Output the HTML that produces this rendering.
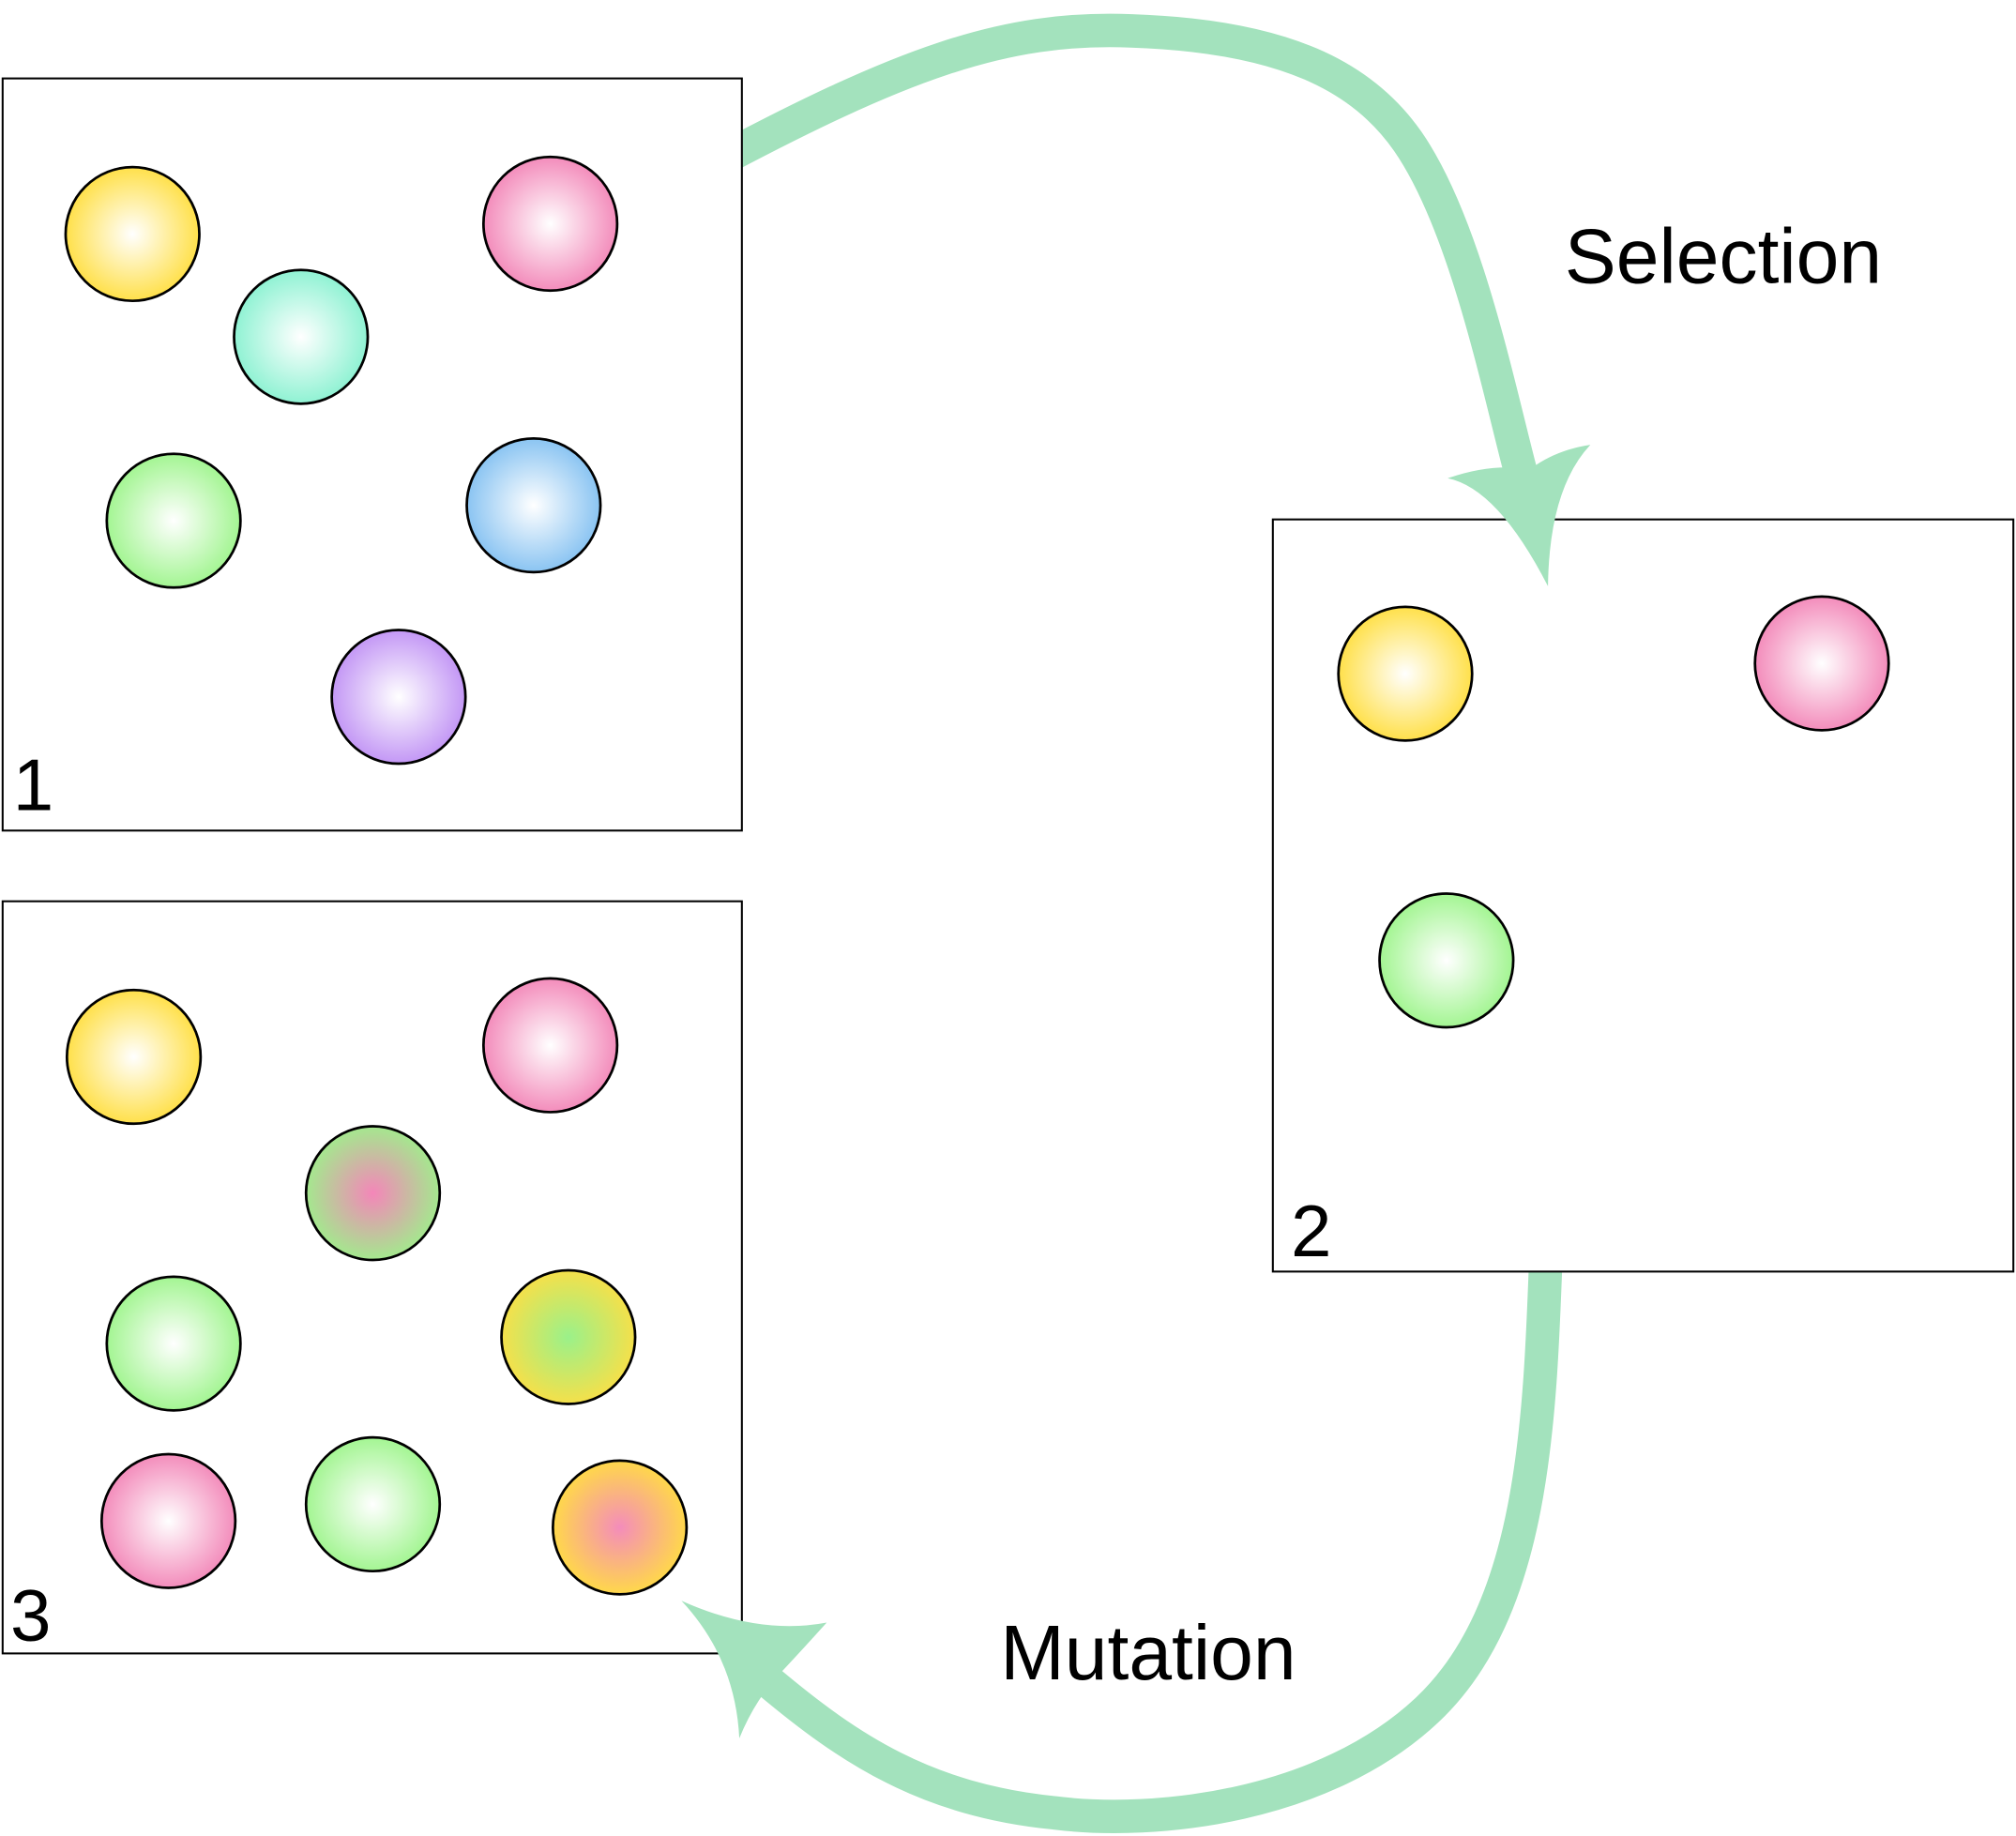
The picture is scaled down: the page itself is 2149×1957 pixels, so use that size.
<!DOCTYPE html>
<html><head><meta charset="utf-8"><style>html,body{margin:0;padding:0;background:#fff}svg{display:block}</style></head>
<body>
<svg width="2149" height="1957" viewBox="0 0 1568 1428" xmlns="http://www.w3.org/2000/svg">
<defs>
<radialGradient id="y"><stop offset="0" stop-color="#fff"/><stop offset="1" stop-color="#ffe04a"/></radialGradient>
<radialGradient id="p"><stop offset="0" stop-color="#fff"/><stop offset="1" stop-color="#f38cbb"/></radialGradient>
<radialGradient id="t"><stop offset="0" stop-color="#fff"/><stop offset="1" stop-color="#8ff2d3"/></radialGradient>
<radialGradient id="g"><stop offset="0" stop-color="#fff"/><stop offset="1" stop-color="#a3f592"/></radialGradient>
<radialGradient id="b"><stop offset="0" stop-color="#fff"/><stop offset="1" stop-color="#8ac4f2"/></radialGradient>
<radialGradient id="v"><stop offset="0" stop-color="#fff"/><stop offset="1" stop-color="#c397f5"/></radialGradient>
<radialGradient id="pg"><stop offset="0" stop-color="#f486b9"/><stop offset="1" stop-color="#a4e88e"/></radialGradient>
<radialGradient id="yg"><stop offset="0" stop-color="#9af18a"/><stop offset="1" stop-color="#f5e04a"/></radialGradient>
<radialGradient id="op"><stop offset="0" stop-color="#f48cbb"/><stop offset="1" stop-color="#ffd84a"/></radialGradient>
</defs>
<g stroke="#a3e2bd" stroke-width="26" fill="none">
<path d="M550,130 C700,50 780,20 880,24 C1000,28 1060,60 1095,110 C1140,175 1165,300 1183,368"/>
<path d="M1203,960 C1198,1100 1195,1250 1110,1330 C1030,1405 900,1420 820,1410 C720,1400 660,1360 598,1308"/>
</g>
<g fill="#fff" stroke="#000" stroke-width="1.5">
<rect x="2" y="61" width="575" height="585"/>
<rect x="2" y="701" width="575" height="585"/>
<rect x="990" y="404" width="576" height="585"/>
</g>
<g fill="#a3e2bd">
<path d="M1126,372 Q1165,380 1204,456 Q1205,380 1237,346 Q1210,350 1190,365 Q1160,360 1126,372 Z"/>
<path d="M575,1352 Q572,1290 530,1245 Q590,1272 643,1262 Q625,1282 610,1298 Q588,1320 575,1352 Z"/>
</g>
<g stroke="#000" stroke-width="2">
<circle cx="103" cy="182" r="52" fill="url(#y)"/>
<circle cx="428" cy="174" r="52" fill="url(#p)"/>
<circle cx="234" cy="262" r="52" fill="url(#t)"/>
<circle cx="135" cy="405" r="52" fill="url(#g)"/>
<circle cx="415" cy="393" r="52" fill="url(#b)"/>
<circle cx="310" cy="542" r="52" fill="url(#v)"/>
<circle cx="1093" cy="524" r="52" fill="url(#y)"/>
<circle cx="1417" cy="516" r="52" fill="url(#p)"/>
<circle cx="1125" cy="747" r="52" fill="url(#g)"/>
<circle cx="104" cy="822" r="52" fill="url(#y)"/>
<circle cx="428" cy="813" r="52" fill="url(#p)"/>
<circle cx="290" cy="928" r="52" fill="url(#pg)"/>
<circle cx="135" cy="1045" r="52" fill="url(#g)"/>
<circle cx="442" cy="1040" r="52" fill="url(#yg)"/>
<circle cx="131" cy="1183" r="52" fill="url(#p)"/>
<circle cx="290" cy="1170" r="52" fill="url(#g)"/>
<circle cx="482" cy="1188" r="52" fill="url(#op)"/>
</g>
<g font-family="Liberation Sans, sans-serif" fill="#000">
<text x="10" y="630" font-size="57">1</text>
<text x="1004" y="977" font-size="57">2</text>
<text x="8" y="1276" font-size="57">3</text>
<text x="1217" y="220" font-size="60">Selection</text>
<text x="778" y="1306" font-size="60">Mutation</text>
</g>
</svg>
</body></html>
